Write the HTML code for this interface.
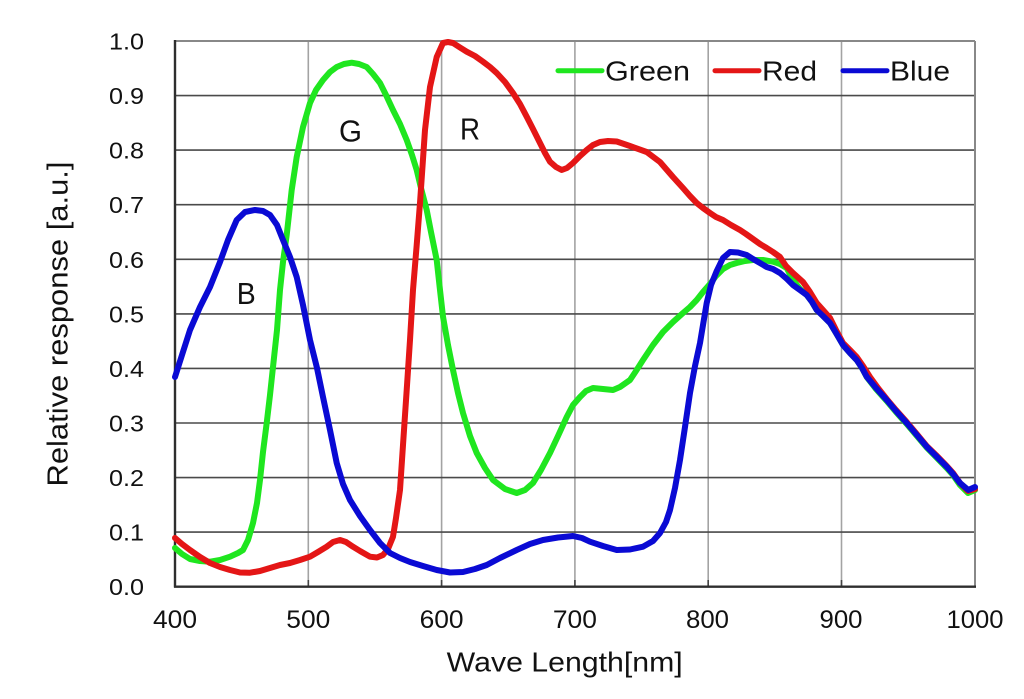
<!DOCTYPE html>
<html>
<head>
<meta charset="utf-8">
<style>
  html, body { margin: 0; padding: 0; background: #ffffff; }
  body { width: 1024px; height: 699px; overflow: hidden; }
  svg { display: block; }
  text { font-family: "Liberation Sans", Arial, sans-serif; fill: #111; }
</style>
</head>
<body>
<svg width="1024" height="699" viewBox="0 0 1024 699" xmlns="http://www.w3.org/2000/svg">
  <rect x="0" y="0" width="1024" height="699" fill="#ffffff"/>

  <!-- vertical gridlines (light grey) -->
  <g stroke="#a3a3a3" stroke-width="1.6">
    <line x1="308.3" y1="41" x2="308.3" y2="586.7"/>
    <line x1="441.6" y1="41" x2="441.6" y2="586.7"/>
    <line x1="574.9" y1="41" x2="574.9" y2="586.7"/>
    <line x1="708.2" y1="41" x2="708.2" y2="586.7"/>
    <line x1="841.5" y1="41" x2="841.5" y2="586.7"/>
  </g>
  <!-- inner tick marks -->
  <g stroke="#444" stroke-width="1.6">
    <line x1="308.3" y1="580" x2="308.3" y2="586.7"/>
    <line x1="441.6" y1="580" x2="441.6" y2="586.7"/>
    <line x1="574.9" y1="580" x2="574.9" y2="586.7"/>
    <line x1="708.2" y1="580" x2="708.2" y2="586.7"/>
    <line x1="841.5" y1="580" x2="841.5" y2="586.7"/>
  </g>
  <!-- horizontal gridlines (dark) -->
  <g stroke="#4a4a4a" stroke-width="1.6">
    <line x1="175" y1="532.1" x2="975" y2="532.1"/>
    <line x1="175" y1="477.6" x2="975" y2="477.6"/>
    <line x1="175" y1="423.0" x2="975" y2="423.0"/>
    <line x1="175" y1="368.4" x2="975" y2="368.4"/>
    <line x1="175" y1="313.9" x2="975" y2="313.9"/>
    <line x1="175" y1="259.3" x2="975" y2="259.3"/>
    <line x1="175" y1="204.7" x2="975" y2="204.7"/>
    <line x1="175" y1="150.1" x2="975" y2="150.1"/>
    <line x1="175" y1="95.6" x2="975" y2="95.6"/>
  </g>
  <!-- top & right border -->
  <g stroke="#888" stroke-width="2">
    <line x1="175" y1="41" x2="975" y2="41"/>
    <line x1="975" y1="41" x2="975" y2="586.7"/>
  </g>
  <!-- axes -->
  <g stroke="#2e2e2e" stroke-width="2.4">
    <line x1="175" y1="40" x2="175" y2="587.5"/>
    <line x1="174" y1="586.7" x2="976" y2="586.7"/>
  </g>

  <!-- Y tick labels -->
  <g font-size="23" text-anchor="end">
    <text x="144" y="49.5" textLength="35" lengthAdjust="spacingAndGlyphs">1.0</text>
    <text x="144" y="104.1" textLength="35" lengthAdjust="spacingAndGlyphs">0.9</text>
    <text x="144" y="158.6" textLength="35" lengthAdjust="spacingAndGlyphs">0.8</text>
    <text x="144" y="213.2" textLength="35" lengthAdjust="spacingAndGlyphs">0.7</text>
    <text x="144" y="267.8" textLength="35" lengthAdjust="spacingAndGlyphs">0.6</text>
    <text x="144" y="322.4" textLength="35" lengthAdjust="spacingAndGlyphs">0.5</text>
    <text x="144" y="376.9" textLength="35" lengthAdjust="spacingAndGlyphs">0.4</text>
    <text x="144" y="431.5" textLength="35" lengthAdjust="spacingAndGlyphs">0.3</text>
    <text x="144" y="486.1" textLength="35" lengthAdjust="spacingAndGlyphs">0.2</text>
    <text x="144" y="540.6" textLength="35" lengthAdjust="spacingAndGlyphs">0.1</text>
    <text x="144" y="595.2" textLength="35" lengthAdjust="spacingAndGlyphs">0.0</text>
  </g>

  <!-- X tick labels -->
  <g font-size="25" text-anchor="middle">
    <text x="175" y="628" textLength="44" lengthAdjust="spacingAndGlyphs">400</text>
    <text x="308.3" y="628" textLength="44" lengthAdjust="spacingAndGlyphs">500</text>
    <text x="441.6" y="628" textLength="44" lengthAdjust="spacingAndGlyphs">600</text>
    <text x="574.9" y="628" textLength="44" lengthAdjust="spacingAndGlyphs">700</text>
    <text x="707.5" y="628" textLength="43" lengthAdjust="spacingAndGlyphs">800</text>
    <text x="841" y="628" textLength="43" lengthAdjust="spacingAndGlyphs">900</text>
    <text x="975" y="628" textLength="57" lengthAdjust="spacingAndGlyphs">1000</text>
  </g>

  <!-- Axis titles -->
  <text x="446.7" y="671.7" font-size="28" textLength="236" lengthAdjust="spacingAndGlyphs">Wave Length[nm]</text>
  <text transform="translate(67.3,324) rotate(-90)" x="0" y="0" font-size="28.5" text-anchor="middle" textLength="325" lengthAdjust="spacingAndGlyphs">Relative response [a.u.]</text>

  <!-- Series -->
  <g fill="none" stroke-width="6" stroke-linejoin="round" stroke-linecap="round">
    <polyline stroke="#1fe61f" points="175,548 182,554 190,559 200,561 210,561.7 220,560 230,556.7 238,553 243,550 248,540 253,523 257,503 260,480 263,452 266.7,423 270,395 273,367 277,330 280,290 283,262 286.7,235 291.7,190 296.7,157 303,127 310,103 316,90 323,80 330,72 336.7,67 344,64 351.7,62.7 359,64 366.7,67 373,74 380,83 386,95 393,110 400,124 406.7,140 412,155 416.7,170 421,188 426.7,210 431,232 436.7,260 440,290 443,316.7 448,345 453,370 458,393 463,413 470,436 476.7,453 485,468 493,480 505,489 516.7,493 525,490 533,483 541,470 550,453 558,436 566.7,417 573,405 580,397 586,391 593,388 603,389 613,390 620,387 630,380 636,371 643,360 653,345 663,332 673,322 683,313 690,307 696.7,300 703,292 710,284 716,276 723,269 730,265 736.7,263 745,261 753,260 763,260 773,261.7 780,264 786.7,268 793,280 800,289 806.7,295 812,302 816.7,310 823,316 830,323 836,333 843,345 850,353 856.7,360 862,368 866.7,377 876,389 886.7,401 896,412 906.7,424 916,435 926.7,447.5 936,457 946.7,468 953,475 960,485 968,493 975,490"/>
    <polyline stroke="#e41616" points="175,538 182,544 190,550 200,557 210,563 220,567 230,570 240,572.5 250,572.7 260,571 270,568 280,565 290,563 300,560 310,556.7 318,552 326.7,546.7 333,542 340,540 346,542 353,546.7 360,551 370,556.7 377,557.5 383,555 388,549 393,536.7 396,518 400,490 403,445 406.7,390 410,340 413,290 416.7,245 420,203 425,130 430,87 436.7,57 443,43 448,42 453,43 460,47.5 466.7,51.7 475,56 483,61.7 490,67 496.7,73 505,82 513,93 520,104 526.7,116.7 533,129 540,143 545,153 550,161.7 556,167 561.7,170 567,168 573,163 580,156 586.7,150 593,145 600,142 608,141 616.7,141.5 630,146 646.7,152 660,162 673,177 683,188 690,196 696.7,203 703,208 710,213 716,217 723,220 731,225 740,230 746,234 753,239 760,244 766.7,248 773,252 780,257 786,266 793,273 803,282 810,292 816.7,303 823,310 830,318 836,330 843,343 850,350 856.7,357 863,366 870,377 878,388 886.7,399 896,410 906.7,422 916,433 926.7,446 936,455 946.7,466 953,473 960,483 968,491 975,489"/>
    <polyline stroke="#0a0ad4" points="175,377 182,355 190,330 200,307 210,287 220,262 228,240 236.7,220 245,212 255,210 263,211 270,215 277,225 283,240 290,257 296.7,277 303,305 310,340 317,368 323,397 330,430 336.7,463 343,484 350,500 360,516 370,530 380,543 390,553 400,558 410,562 423,566 436.7,570 450,572.5 463,572 475,569 486.7,565 500,558 516.7,550 530,544 543,540 558,537.5 573,536 582,538 590,541.7 603,546 616.7,550 630,549.5 643,546.7 653,541 660,533 666,522 670,510 675,488 680,460 685,427 690,393 695,366 700,343 703,325 706.7,303 711,285 716.7,271 723,258 730,252 738,252.5 746.7,255 753,259 760,263 766.7,267 773,269 780,273 787,279 793,285 800,290 806.7,295 812,302 816.7,310 823,316 830,323 836,333 843,345 850,353 856.7,360 862,368 866.7,376.7 876,388 886.7,400 896,411 906.7,423 916,434 926.7,446.7 936,456 946.7,466.7 953,474 960,483 968.3,490 975,487"/>
  </g>

  <!-- In-plot letters -->
  <g font-size="31">
    <text x="339" y="141.7" textLength="23" lengthAdjust="spacingAndGlyphs">G</text>
    <text x="460" y="139.3" textLength="20" lengthAdjust="spacingAndGlyphs">R</text>
    <text x="236.7" y="304" textLength="19" lengthAdjust="spacingAndGlyphs">B</text>
  </g>

  <!-- Legend -->
  <g stroke-width="5" stroke-linecap="round">
    <line x1="558" y1="70.7" x2="602" y2="70.7" stroke="#1fe61f"/>
    <line x1="715" y1="70.7" x2="759" y2="70.7" stroke="#e41616"/>
    <line x1="843" y1="70.7" x2="887" y2="70.7" stroke="#0a0ad4"/>
  </g>
  <g font-size="28">
    <text x="605" y="80.5" textLength="85" lengthAdjust="spacingAndGlyphs">Green</text>
    <text x="762" y="80.5" textLength="55" lengthAdjust="spacingAndGlyphs">Red</text>
    <text x="890" y="80.5" textLength="60" lengthAdjust="spacingAndGlyphs">Blue</text>
  </g>
</svg>
</body>
</html>
